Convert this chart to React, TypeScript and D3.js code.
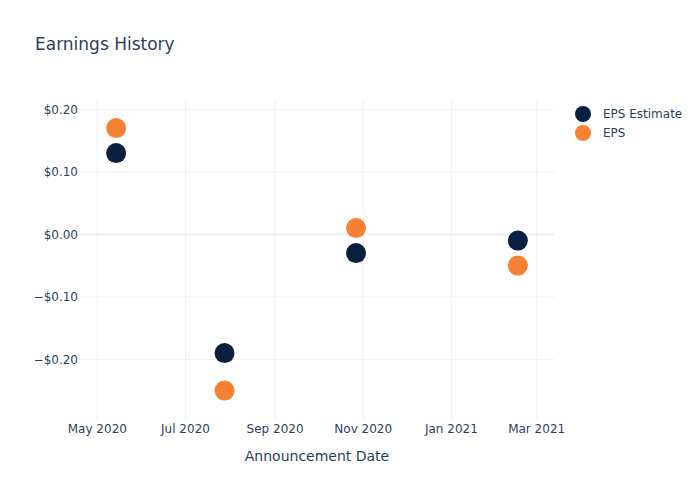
import React from "react";
import * as d3 from "d3";

const dates = ["2020-05-14", "2020-07-28", "2020-10-27", "2021-02-16"];
const epsEstimate = [0.13, -0.19, -0.03, -0.01];
const eps = [0.17, -0.25, 0.01, -0.05];
const yTicks = [-0.2, -0.1, 0, 0.1, 0.2];
const xTicks = ["2020-05-01", "2020-07-01", "2020-09-01", "2020-11-01", "2021-01-01", "2021-03-01"];
const seriesNames = ["EPS Estimate", "EPS"];
const seriesColors = ["#0b1f41", "#f68133"];

const W = 700, H = 500;
const M = { l: 80, r: 146, t: 100, b: 80 };
const FONT = '"DejaVu Sans", verdana, arial, sans-serif';
const TXT = "#2a3f5f";

export default function App() {
  const parse = d3.utcParse("%Y-%m-%d");
  const x = d3.scaleUtc()
    .domain([parse("2020-04-19")!, parse("2021-03-13")!])
    .range([M.l, W - M.r]);
  const y = d3.scaleLinear().domain([-0.2971, 0.2149]).range([H - M.b, M.t]);
  const fmtX = d3.utcFormat("%b %Y");
  const fmtY = (v: number) => (v < 0 ? "\u2212$" : "$") + Math.abs(v).toFixed(2);
  const series = [epsEstimate, eps];

  return (
    <svg width={W} height={H} style={{ position: "absolute", left: 0, top: 0, fontFamily: FONT }}>
      <rect width={W} height={H} fill="#fff" />
      {xTicks.map((t) => (
        <line key={t} x1={x(parse(t)!)} x2={x(parse(t)!)} y1={M.t} y2={H - M.b} stroke="#ebf0f8" strokeWidth={1} />
      ))}
      {yTicks.map((t) => (
        <line key={t} x1={M.l} x2={W - M.r} y1={y(t)} y2={y(t)} stroke="#ebf0f8" strokeWidth={t === 0 ? 2 : 1} />
      ))}
      {yTicks.map((t) => (
        <text key={t} x={M.l - 2} y={y(t)} dy="0.35em" textAnchor="end" fontSize={12} fill={TXT}>{fmtY(t)}</text>
      ))}
      {xTicks.map((t) => (
        <text key={t} x={x(parse(t)!)} y={H - M.b + 13} textAnchor="middle" fontSize={12} fill={TXT}>{fmtX(parse(t)!)}</text>
      ))}
      <text x={M.l + (W - M.r - M.l) / 2} y={461} textAnchor="middle" fontSize={14} fill={TXT}>Announcement Date</text>
      <text x={35} y={50} fontSize={17} fill={TXT}>Earnings History</text>
      {series.map((vals, si) =>
        vals.map((v, i) => (
          <circle key={si + "-" + i} cx={x(parse(dates[i])!)} cy={y(v)} r={10} fill={seriesColors[si]} />
        ))
      )}
      {seriesNames.map((n, i) => (
        <g key={n} transform={`translate(583,${114 + i * 19})`}>
          <circle r={8} fill={seriesColors[i]} />
          <text x={20} dy="0.35em" fontSize={12} fill={TXT}>{n}</text>
        </g>
      ))}
    </svg>
  );
}
